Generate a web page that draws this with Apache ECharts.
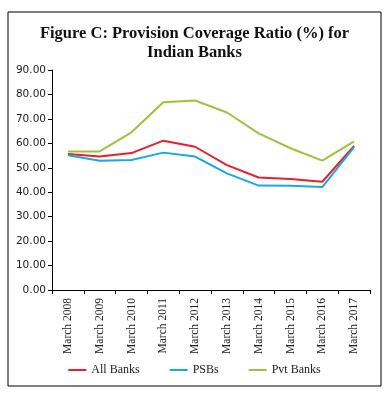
<!DOCTYPE html>
<html><head><meta charset="utf-8">
<script src="https://cdn.jsdelivr.net/npm/echarts@6/dist/echarts.min.js"></script>
<style>html,body{margin:0;padding:0;background:#fff}#c{width:389px;height:393px}</style>
</head><body><div id="c"></div>
<script>
var categories = ['March 2008','March 2009','March 2010','March 2011','March 2012','March 2013','March 2014','March 2015','March 2016','March 2017'];
var allBanks = [55.6, 54.6, 56.0, 61.1, 58.6, 51.1, 46.0, 45.4, 44.3, 58.9];
var psbs = [55.1, 52.9, 53.2, 56.2, 54.6, 47.7, 42.7, 42.6, 42.1, 58.4];
var pvtBanks = [56.7, 56.7, 64.5, 76.8, 77.5, 72.6, 64.1, 58.0, 52.9, 60.8];
var yTicks = [0, 10, 20, 30, 40, 50, 60, 70, 80, 90];

var chart = echarts.init(document.getElementById('c'));
var serif = '"Liberation Serif","DejaVu Serif",serif';
function s(name, data, color){
  return {name:name,type:'line',data:data,symbol:'none',smooth:false,
    lineStyle:{color:color,width:2},itemStyle:{color:color}};
}
chart.setOption({
  animation:false,
  title:{text:'Figure C: Provision Coverage Ratio (%) for\nIndian Banks',left:'center',top:19,
    textStyle:{fontFamily:serif,fontWeight:'bold',fontSize:16.5,lineHeight:19,color:'#111'}},
  graphic:[{type:'rect',shape:{x:8,y:12,width:373,height:374},style:{fill:'none',stroke:'#000',lineWidth:1}}],
  grid:{left:52,right:19,top:70,bottom:103},
  legend:{bottom:12,left:'center',itemGap:30,itemWidth:18,itemHeight:2,icon:'rect',
    textStyle:{fontFamily:serif,fontSize:12,color:'#222'},
    data:['All Banks','PSBs','Pvt Banks']},
  xAxis:{type:'category',data:categories,boundaryGap:true,
    axisLine:{lineStyle:{color:'#000'}},
    axisTick:{show:true,length:4,lineStyle:{color:'#000'}},
    axisLabel:{rotate:90,fontFamily:serif,fontSize:11.5,color:'#222',margin:8,interval:0}},
  yAxis:{type:'value',min:yTicks[0],max:yTicks[yTicks.length-1],interval:10,
    splitLine:{show:false},
    axisLine:{show:true,lineStyle:{color:'#000'}},
    axisTick:{show:true,length:4,lineStyle:{color:'#000'}},
    axisLabel:{formatter:function(v){return v.toFixed(2);},fontFamily:'"DejaVu Sans",sans-serif',fontSize:10.5,color:'#222',margin:6}},
  series:[s('All Banks',allBanks,'#ee1d2b'),s('PSBs',psbs,'#17a9e6'),s('Pvt Banks',pvtBanks,'#9dc33c')]
});
</script></body></html>
